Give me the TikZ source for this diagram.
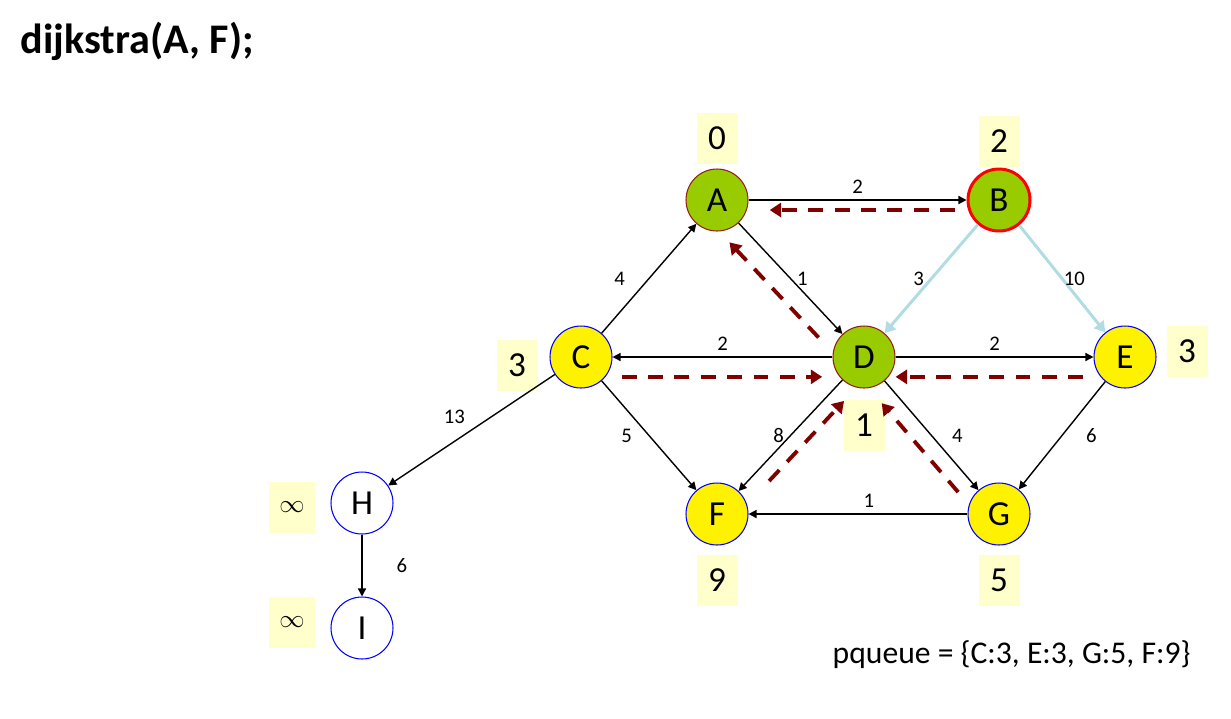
\documentclass[tikz,border=0pt]{standalone}
\usepackage{fontspec}
\setmainfont{Carlito}
\usetikzlibrary{positioning,arrows.meta,calc}
\definecolor{donegreen}{RGB}{153,204,0}
\definecolor{doneborder}{RGB}{150,30,20}
\definecolor{backred}{RGB}{128,0,0}
\definecolor{scanblue}{RGB}{176,221,226}
\definecolor{distyellow}{RGB}{255,255,204}
\tikzset{
roundnode/.style={circle, minimum size=1.24cm, inner sep=0pt, font=\fontsize{20}{22}\selectfont},
donenode/.style={roundnode, fill=donegreen, draw=doneborder, line width=0.6pt},
currnode/.style={roundnode, fill=donegreen, draw=red, line width=1.7pt},
opennode/.style={roundnode, fill=yellow, draw=blue, line width=0.6pt},
freshnode/.style={roundnode, fill=white, draw=blue, line width=0.6pt},
distnode/.style={rectangle, fill=distyellow, minimum width=0.82cm, minimum height=1.02cm, inner sep=0pt, font=\fontsize{20}{22}\selectfont},
>={Triangle[width=4.6pt,length=4.6pt]},
scanedge/.style={->, draw=scanblue, line width=1.7pt, >={Triangle[width=7pt,length=6pt]}},
backedge/.style={draw=backred, line width=2.2pt, dash pattern=on 8.5pt off 6.5pt, -{Triangle[width=8pt,length=6.5pt]}},
every node/.append style={font=\fontsize{11.8}{13}\selectfont}
}
\begin{document}
\begin{tikzpicture}[x=0.02cm, y=-0.02cm, line width=0.8pt]
\useasboundingbox (0,0) rectangle (1231,718);

%Title
\node[anchor=base west, inner sep=0pt, font=\fontsize{24}{28}\selectfont\bfseries] (title) at (20,53) {dijkstra(A, F);};

%Graph nodes
\node[donenode] (A) at (717,200) {A};
\node[currnode] (B) at (999,200) {B};
\node[opennode] (C) at (581,357) {C};
\node[donenode] (D) at (864,357) {D};
\node[opennode] (E) at (1125,357) {E};
\node[opennode] (F) at (717,514) {F};
\node[opennode] (G) at (999,514) {G};
\node[freshnode] (H) at (362,503) {H};
\node[freshnode] (I) at (362,628) {I};

%Distance boxes
\node[distnode] (dA) at (717,138) {0};
\node[distnode] (dB) at (999,141) {2};
\node[distnode] (dC) at (517,365) {3};
\node[distnode] (dD) at (864,425) {1};
\node[distnode] (dE) at (1187,351) {3};
\node[distnode] (dF) at (717,580) {9};
\node[distnode] (dG) at (999,580) {5};
\node[distnode, minimum width=0.94cm, font=\fontsize{15}{17}\selectfont] (dH) at (292,507) {$\infty$};
\node[distnode, minimum width=0.94cm, font=\fontsize{15}{17}\selectfont] (dI) at (292,622) {$\infty$};

%Weighted edges
\draw[->] (A) -- node[above] {2} (B);
\draw[->] (A) -- node[right] {1} (D);
\draw[->] (C) -- node[left=10pt] {4} (A);
\draw[->] (D) -- node[above] {2} (C);
\draw[->] (D) -- node[above] {2} (E);
\draw[scanedge] (B) -- node[left, text=black] {3} (D);
\draw[scanedge] (B) -- node[right, inner sep=0pt, text=black] {10} (E);
\draw[->] (C) -- node[left=6pt] {5} (F);
\draw[->] (D) -- node[left] {8} (F);
\draw[->] (D) -- node[right=8pt] {4} (G);
\draw[->] (E) -- node[right=10pt] {6} (G);
\draw[->] (G) -- node[above, pos=0.45] {1} (F);
\draw[->] (C) -- node[above left] {13} (H);
\draw[->] (H) -- node[right=16pt] {6} (I);

%Shortest path back pointers
\draw[backedge, shorten <=25pt, shorten >=30pt] ($(B)!5.7pt!90:(A)$) -- ($(A)!5.7pt!-90:(B)$);
\draw[backedge, shorten <=25.8pt, shorten >=22.4pt] ($(D)!11.3pt!90:(A)$) -- ($(A)!11.3pt!-90:(D)$);
\draw[backedge, shorten <=23.2pt, shorten >=23.8pt] ($(C)!11.3pt!-90:(D)$) -- ($(D)!11.3pt!90:(C)$);
\draw[backedge, shorten <=23.8pt, shorten >=18pt] ($(E)!11.3pt!90:(D)$) -- ($(D)!11.3pt!-90:(E)$);
\draw[backedge, shorten <=34pt, shorten >=26pt] ($(F)!8.8pt!-90:(D)$) -- ($(D)!8.8pt!90:(F)$);
\draw[backedge, shorten <=24.6pt, shorten >=26.5pt] ($(G)!9.5pt!90:(D)$) -- ($(D)!9.5pt!-90:(G)$);

\node[anchor=base west, inner sep=0pt, font=\fontsize{18}{20}\selectfont] (pq) at (832,663) {pqueue = \{C:3, E:3, G:5, F:9\}};
\end{tikzpicture}
\end{document}
